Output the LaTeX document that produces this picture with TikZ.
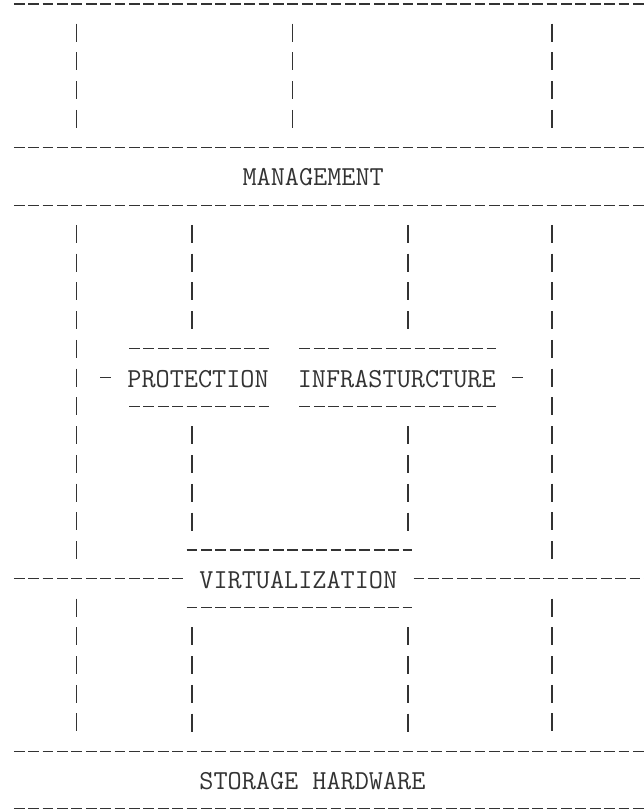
\documentclass[tikz,border=0pt]{standalone}
\usepackage{fontspec}
\usepackage{tikz}
\usetikzlibrary{positioning}
\definecolor{asciiGray}{rgb}{0.2,0.2,0.2}
\newcommand*{\asciiFont}{\fontsize{27.43pt}{32.9pt}\selectfont\ttfamily}

\begin{document}
\begin{tikzpicture}[
		x=14.4pt, y=-28.74pt,
		lbl/.style={font=\asciiFont, text=asciiGray, inner sep=0pt, anchor=base west},
		box/.style={lbl, text height=38.24pt, text depth=19.24pt},
		hyph/.style={draw=asciiGray, line width=1.3pt, dash pattern=on 10.8pt off 3.6pt, dash phase=12.6pt},
		vbar/.style={draw=asciiGray, line width=1.3pt, dash pattern=on 18pt off 10.74pt, dash phase=23.37pt, shorten <=14.37pt, shorten >=14.37pt},
	]
		\useasboundingbox (-12pt,4pt) rectangle (632pt,-808pt);
		%
		\node[lbl] (mgmt) at (16,6.33) {MANAGEMENT};
		\node[box] (prot) at (8,13.33) {PROTECTION};
		\node[box, right=28.8pt of prot] (infra) {INFRASTURCTURE};
		\node[box, inner xsep=14.4pt] (virt) at (12,20.33) {VIRTUALIZATION};
		\node[lbl] (hw) at (13,27.33) {STORAGE HARDWARE};
		%
		\coordinate (r0) at (0,0);
		\coordinate (r5) at (0,5);
		\coordinate (r7) at (0,7);
		\coordinate (r26) at (0,26);
		\coordinate (r28) at (0,28);
		\coordinate (e0) at (44,0);
		\coordinate (c4) at (4.5,0);
		\coordinate (c12) at (12.5,0);
		\coordinate (c19) at (19.5,0);
		\coordinate (c27) at (27.5,0);
		\coordinate (c37) at (37.5,0);
		%
		\draw[hyph] (r0) -- (r0 -| e0);
		\draw[hyph] (r5) -- (r5 -| e0);
		\draw[hyph] (r7) -- (r7 -| e0);
		\draw[hyph] (r26) -- (r26 -| e0);
		\draw[hyph] (r28) -- (r28 -| e0);
		%
		\draw[hyph] (prot.north west) -- (prot.north east);
		\draw[hyph] (prot.south west) -- (prot.south east);
		\draw[hyph] (infra.north west) -- (infra.north east);
		\draw[hyph] (infra.south west) -- (infra.south east);
		\draw[hyph] ([xshift=-28.8pt]prot.west) -- ([xshift=-14.4pt]prot.west);
		\draw[hyph] ([xshift=14.4pt]infra.east) -- ([xshift=28.8pt]infra.east);
		%
		\draw[hyph] (virt.north west) -- (virt.north east);
		\draw[hyph] (virt.south west) -- (virt.south east);
		\draw[hyph] (virt.west -| r0) -- (virt.west);
		\draw[hyph] (virt.east) -- (virt.east -| e0);
		%
		\draw[vbar] (c4) -- (c4 |- r5);
		\draw[vbar] (c19) -- (c19 |- r5);
		\draw[vbar] (c37) -- (c37 |- r5);
		%
		\draw[vbar] (c4 |- r7) -- (c4 |- virt.west);
		\draw[vbar] (c4 |- virt.west) -- (c4 |- r26);
		\draw[vbar] (c37 |- r7) -- (c37 |- virt.east);
		\draw[vbar] (c37 |- virt.east) -- (c37 |- r26);
		%
		\draw[vbar] (c12 |- r7) -- (c12 |- prot.north);
		\draw[vbar] (c12 |- prot.south) -- (c12 |- virt.north);
		\draw[vbar] (c12 |- virt.south) -- (c12 |- r26);
		\draw[vbar] (c27 |- r7) -- (c27 |- infra.north);
		\draw[vbar] (c27 |- infra.south) -- (c27 |- virt.north);
		\draw[vbar] (c27 |- virt.south) -- (c27 |- r26);
	\end{tikzpicture}
\end{document}
